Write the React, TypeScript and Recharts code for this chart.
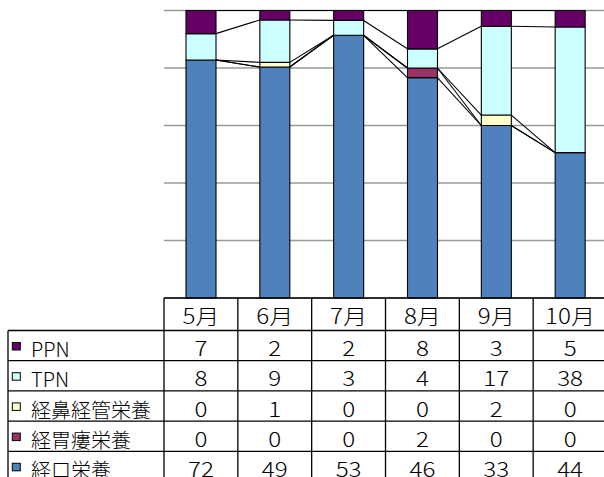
import React from 'react';
import { BarChart, Bar, XAxis, YAxis, CartesianGrid, ReferenceLine } from 'recharts';

const months = ['5月', '6月', '7月', '8月', '9月', '10月'];
const ppn = [7, 2, 2, 8, 3, 5];
const tpn = [8, 9, 3, 4, 17, 38];
const nasal = [0, 1, 0, 0, 2, 0];
const gastro = [0, 0, 0, 2, 0, 0];
const oral = [72, 49, 53, 46, 33, 44];

// stacking order bottom -> top
const series = [
  { key: 'oral', name: '経口栄養', values: oral, color: '#4F81BD' },
  { key: 'gastro', name: '経胃瘻栄養', values: gastro, color: '#993366' },
  { key: 'nasal', name: '経鼻経管栄養', values: nasal, color: '#FFFFCC' },
  { key: 'tpn', name: 'TPN', values: tpn, color: '#CCFFFF' },
  { key: 'ppn', name: 'PPN', values: ppn, color: '#660066' },
];

const data = months.map((m, i) => {
  const row: any = { month: m };
  series.forEach((s) => (row[s.key] = s.values[i]));
  return row;
});

const totals = months.map((_, i) => series.reduce((a, s) => a + s.values[i], 0));
const cumFrac = series.map((_, k) =>
  months.map((__, i) => {
    let c = 0;
    for (let j = 0; j <= k; j++) c += series[j].values[i];
    return c / totals[i];
  })
);

const W = 604;
const H = 477;
const PLOT_L = 164;
const PLOT_R = 607;
const PLOT_T = 10.5;
const PLOT_B = 298;
const BAR = 30;
const FONT = '"Noto Sans CJK JP", "Noto Sans", sans-serif';
const FS = 21;

const bandW = (PLOT_R - PLOT_L) / months.length;
const rowTops = [298, 330.5, 360.7, 390.9, 421.1, 451.3, 481.5];
const tableRows = [...series].reverse();

function SeriesLine(p: any) {
  return (
    <line
      x1={p.x1 + BAR / 2}
      y1={p.y1}
      x2={p.x2 - BAR / 2}
      y2={p.y2}
      stroke="#000"
      strokeWidth={1.1}
    />
  );
}

function Table() {
  const lines: React.ReactNode[] = [];
  const texts: React.ReactNode[] = [];
  const sx = 1.15;
  rowTops.forEach((y, r) => {
    const x1 = r === 0 ? PLOT_L : 8;
    lines.push(<line key={'h' + r} x1={x1} x2={W} y1={y} y2={y} stroke="#000" strokeWidth={1.3} />);
  });
  lines.push(<line key="vl" x1={8} x2={8} y1={rowTops[1]} y2={H} stroke="#000" strokeWidth={1.3} />);
  for (let c = 0; c <= months.length; c++) {
    const x = PLOT_L + c * bandW;
    lines.push(<line key={'v' + c} x1={x} x2={x} y1={rowTops[0]} y2={H} stroke="#000" strokeWidth={1.3} />);
  }
  months.forEach((m, c) => {
    const cx = PLOT_L + (c + 0.5) * bandW;
    texts.push(
      <text key={'m' + c} transform={`translate(${cx},${rowTops[1] - 7}) scale(${sx},1)`} textAnchor="middle" fontSize={FS} fontWeight={300} fontFamily={FONT} fill="#000">
        {m}
      </text>
    );
  });
  tableRows.forEach((s, r) => {
    const top = rowTops[r + 1];
    const bottom = rowTops[r + 2];
    lines.push(<rect key={'sq' + r} x={12.3} y={top + 12} width={8} height={7.5} fill={s.color} stroke="#000" strokeWidth={1} />);
    texts.push(
      <text key={'n' + r} x={31} y={bottom - 3.5} fontSize={20} fontWeight={300} fontFamily={FONT} fill="#000">
        {s.name}
      </text>
    );
    s.values.forEach((v, c) => {
      const cx = PLOT_L + (c + 0.5) * bandW;
      texts.push(
        <text key={'v' + r + '_' + c} transform={`translate(${cx},${bottom - 4.5}) scale(${sx},1)`} textAnchor="middle" fontSize={FS} fontWeight={300} fontFamily={FONT} fill="#000">
          {v}
        </text>
      );
    });
  });
  return (
    <svg width={W} height={H} style={{ position: 'absolute', left: 0, top: 0, pointerEvents: 'none' }}>
      {lines}
      {texts}
    </svg>
  );
}

export default function App() {
  return (
    <div style={{ position: 'relative', width: W, height: H, overflow: 'hidden', background: '#fff' }}>
      <style>{`body{margin:0;overflow:hidden;background:#fff}`}</style>
      <div style={{ position: 'absolute', left: 0, top: 0 }}>
        <BarChart
          width={PLOT_R + 5}
          height={H}
          data={data}
          stackOffset="expand"
          barSize={BAR}
          margin={{ top: PLOT_T, left: PLOT_L, right: 5, bottom: H - PLOT_B }}
        >
          <CartesianGrid vertical={false} stroke="#999" strokeWidth={1.3} />
          <XAxis dataKey="month" hide />
          <YAxis hide type="number" domain={[0, 1]} ticks={[0, 0.2, 0.4, 0.6, 0.8, 1]} />
          {series.map((s) => (
            <Bar
              key={s.key}
              dataKey={s.key}
              stackId="a"
              fill={s.color}
              stroke="#000"
              strokeWidth={1.1}
              isAnimationActive={false}
            />
          ))}
          {cumFrac.map((fr, k) =>
            months.slice(0, -1).map((m, i) => (
              <ReferenceLine
                key={'sl' + k + '_' + i}
                segment={[
                  { x: m, y: fr[i] },
                  { x: months[i + 1], y: fr[i + 1] },
                ]}
                ifOverflow="visible"
                shape={SeriesLine}
              />
            ))
          )}
        </BarChart>
      </div>
      <Table />
    </div>
  );
}
